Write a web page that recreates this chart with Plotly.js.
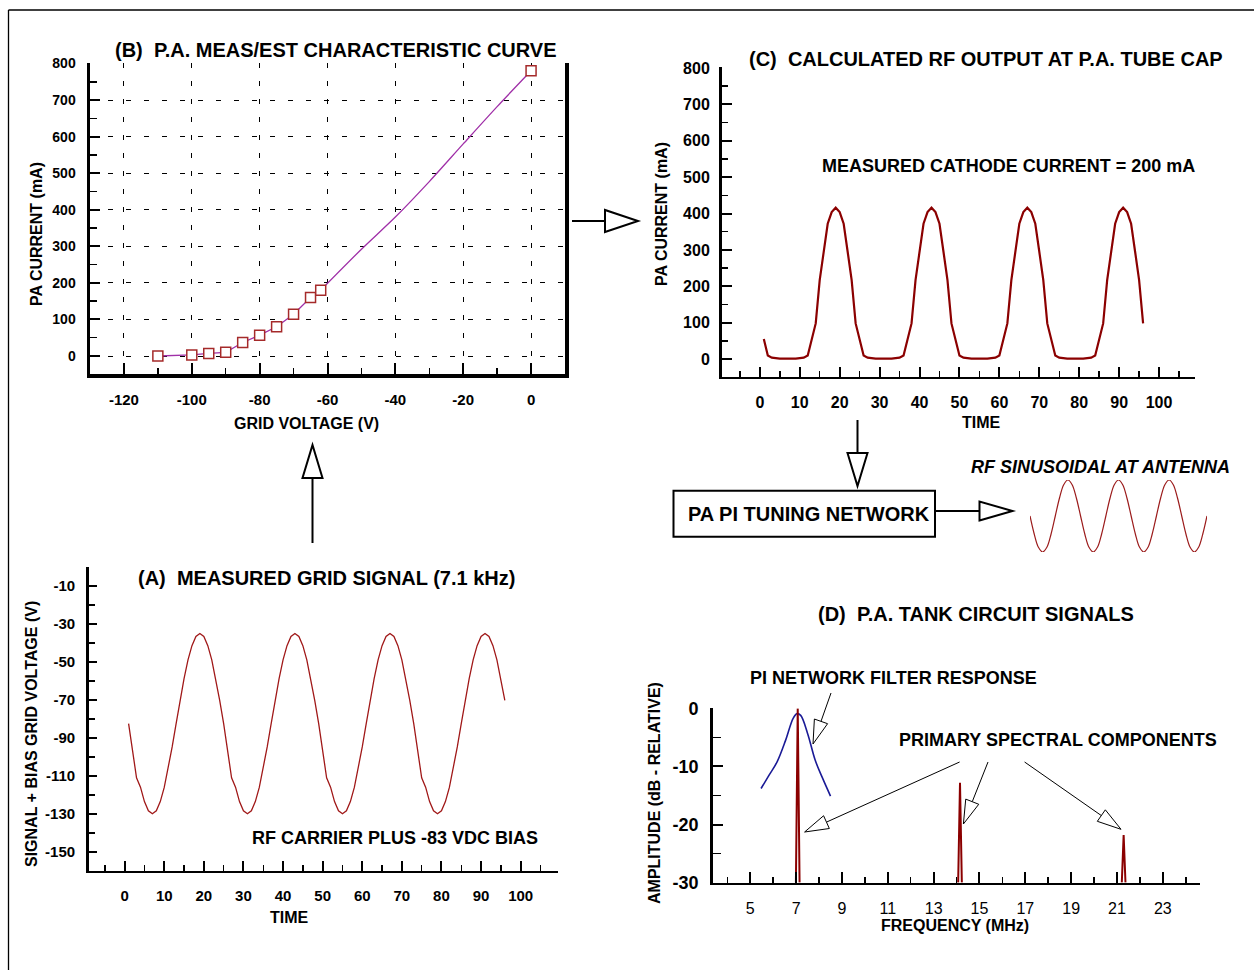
<!DOCTYPE html>
<html>
<head>
<meta charset="utf-8">
<script src="https://cdn.plot.ly/plotly-3.0.1.min.js"></script>
<style>html,body{margin:0;padding:0;background:#fff;}#chart{width:1254px;height:970px;}</style>
</head>
<body>
<div id="chart"></div>
<script>
// ---------- DATA ----------
// (A) measured grid signal
const timeA = [1,2,3,4,5,6,7,8,9,10,11,12,13,14,15,16,17,18,19,20,21,22,23,24,25,26,27,28,29,30,31,32,33,34,35,36,37,38,39,40,41,42,43,44,45,46,47,48,49,50,51,52,53,54,55,56,57,58,59,60,61,62,63,64,65,66,67,68,69,70,71,72,73,74,75,76,77,78,79,80,81,82,83,84,85,86,87,88,89,90,91,92,93,94,95,96];
const gridVolts = [
 -82.5,-97,-111,-116,-123.6,-128.4,-130,-128.4,-123.6,-116.1,-106.3,-94.8,
 -82.5,-70.2,-58.8,-48.9,-41.4,-36.6,-35,-36.6,-41.4,-48.9,-58.8,-70.2,-82.5,-97,-111,-116,-123.6,-128.4,-130,-128.4,-123.6,-116.1,-106.3,-94.8,
 -82.5,-70.2,-58.8,-48.9,-41.4,-36.6,-35,-36.6,-41.4,-48.9,-58.8,-70.2,-82.5,-97,-111,-116,-123.6,-128.4,-130,-128.4,-123.6,-116.1,-106.3,-94.8,
 -82.5,-70.2,-58.8,-48.9,-41.4,-36.6,-35,-36.6,-41.4,-48.9,-58.8,-70.2,-82.5,-97,-111,-116,-123.6,-128.4,-130,-128.4,-123.6,-116.1,-106.3,-94.8,
 -82.5,-70.2,-58.8,-48.9,-41.4,-36.6,-35,-36.6,-41.4,-48.9,-58.8,-70.2];
const gridTickVals = [-150,-130,-110,-90,-70,-50,-30,-10];

// (B) characteristic curve: measured points (squares) and estimated extension
const measVolts = [-110,-100,-95,-90,-85,-80,-75,-70,-65,-62];
const measCurrent = [0,3,7,10,37,57,80,114,160,180];
const estVolts = [-62,-50,-40,-30,-20,-10,0];
const estCurrent = [180,292,380,477,580,682,780];
const endVolts = [0];
const endCurrent = [780];
const voltTickVals = [-120,-100,-80,-60,-40,-20,0];

// (C) calculated RF output
const timeC = timeA;
const plateCurrent = [
 55,10,4,2,1,1,0,1,1,2,4,10,
 55,98,217,295,372,404,416,404,372,295,217,98,55,10,4,2,1,1,0,1,1,2,4,10,
 55,98,217,295,372,404,416,404,372,295,217,98,55,10,4,2,1,1,0,1,1,2,4,10,
 55,98,217,295,372,404,416,404,372,295,217,98,55,10,4,2,1,1,0,1,1,2,4,10,
 55,98,217,295,372,404,416,404,372,295,217,98];

// (D) tank circuit signals
const filterFreq = [5.47,5.82,6.17,6.54,6.87,7.04,7.2,7.5,7.83,8.13,8.5];
const filterDb = [-13.8,-11.5,-9.2,-5.5,-1.7,-0.9,-1.2,-4.3,-8.9,-11.8,-15.1];
const specFreq = [7.07,14.15,21.29];
const specDb = [0,-12.8,-21.8];
const dbTickVals = [-30,-20,-10,0];

// RF sinusoid at antenna (12 samples per cycle)
const rfStep = [0,1,2,3,4,5,6,7,8,9,10,11,12,13,14,15,16,17,18,19,20,21,22,23,24,25,26,27,28,29,30,31,32,33,34,35,36,37,38,39,40,41,42];
const rfLevel = [0,-0.5,-0.87,-1,-0.87,-0.5,0,0.5,0.87,1,0.87,0.5,
                 0,-0.5,-0.87,-1,-0.87,-0.5,0,0.5,0.87,1,0.87,0.5,
                 0,-0.5,-0.87,-1,-0.87,-0.5,0,0.5,0.87,1,0.87,0.5,
                 0,-0.5,-0.87,-1,-0.87,-0.5,0];

// ---------- LAYOUT HELPERS ----------
const W = 1254, H = 970;
const X = v => v / W, Y = v => 1 - v / H;
const F = 'Liberation Sans, Arial, sans-serif';
const bold = s => ({family: F, size: s, color: '#000', weight: 700});

function ax(extra) {
  return Object.assign({
    showline: true, linecolor: '#000', linewidth: 2.5,
    ticks: 'inside', tickcolor: '#000', tickwidth: 2,
    showgrid: false, zeroline: false, automargin: false, fixedrange: true
  }, extra);
}
function minor(dtick, tick0, len, w) {
  return {tickmode: 'linear', dtick: dtick, tick0: tick0, ticks: 'inside', ticklen: len, tickwidth: w || 1.5, tickcolor: '#000', showgrid: false};
}

const annotations = [];
function txt(text, x, y, size, extra) {
  annotations.push(Object.assign({
    text: text, x: X(x), y: Y(y), xref: 'paper', yref: 'paper', showarrow: false,
    xanchor: 'center', yanchor: 'middle', font: bold(size)
  }, extra || {}));
}
const sp = '\u00a0\u00a0';
// panel titles
txt('(B)' + sp + 'P.A. MEAS/EST CHARACTERISTIC CURVE', 336, 50, 20);
txt('(C)' + sp + 'CALCULATED RF OUTPUT AT P.A. TUBE CAP', 986, 59, 20);
txt('(A)' + sp + 'MEASURED GRID SIGNAL (7.1 kHz)', 326, 578, 20);
txt('(D)' + sp + 'P.A. TANK CIRCUIT SIGNALS', 976, 614, 20);
// axis titles
txt('PA CURRENT (mA)', 36, 234, 16, {textangle: -90});
txt('GRID VOLTAGE (V)', 306, 423, 16);
txt('PA CURRENT (mA)', 661, 214, 16, {textangle: -90});
txt('TIME', 981, 422, 16);
txt('SIGNAL + BIAS GRID VOLTAGE (V)', 31, 734, 16, {textangle: -90});
txt('TIME', 289, 917, 16);
txt('AMPLITUDE (dB - RELATIVE)', 654, 793, 16, {textangle: -90});
txt('FREQUENCY (MHz)', 955, 925, 16);
// notes
txt('MEASURED CATHODE CURRENT = 200 mA', 1008, 166, 18);
txt('RF CARRIER PLUS -83 VDC BIAS', 395, 838, 18);
txt('PI NETWORK FILTER RESPONSE', 894, 678, 18);
txt('PRIMARY SPECTRAL COMPONENTS', 1058, 740, 18);
txt('PA PI TUNING NETWORK', 809, 514, 20);
txt('RF SINUSOIDAL AT ANTENNA', 1100, 467, 18, {font: {family: F, size: 18, color: '#000', weight: 700, style: 'italic'}});

const shapes = [];
function line(x0, y0, x1, y1, w) {
  shapes.push({type: 'line', xref: 'paper', yref: 'paper', x0: X(x0), y0: Y(y0), x1: X(x1), y1: Y(y1), line: {color: '#000', width: w}});
}
function arrow(x0, y0, x1, y1, L, Wd, lw) {
  const dx = x1 - x0, dy = y1 - y0, len = Math.hypot(dx, dy);
  const ux = dx / len, uy = dy / len, nx = -uy, ny = ux;
  const bx = x1 - ux * L, by = y1 - uy * L;
  line(x0, y0, bx, by, lw);
  const p = [[bx + nx * Wd, by + ny * Wd], [x1, y1], [bx - nx * Wd, by - ny * Wd]];
  shapes.push({type: 'path', xref: 'paper', yref: 'paper',
    path: 'M' + p.map(q => X(q[0]) + ',' + Y(q[1])).join(' L') + ' Z',
    fillcolor: '#fff', line: {color: '#000', width: lw}});
}
// page border (top and left)
line(8.5, 10, 1262, 10, 1.3);
line(8.5, 10, 8.5, 980, 1.3);
// flow arrows
arrow(572, 221, 638, 221, 33, 11, 2);
arrow(312.5, 543, 312.5, 445, 33, 10, 2);
arrow(857.5, 420, 857.5, 486, 33, 10, 2);
arrow(935, 511, 1012.5, 511, 33, 9.5, 2);
// tuning network box
shapes.push({type: 'rect', xref: 'paper', yref: 'paper', x0: X(673.5), y0: Y(536.7), x1: X(935), y1: Y(490.7), line: {color: '#000', width: 2}, fillcolor: 'rgba(0,0,0,0)'});
// panel D pointer arrows
arrow(831, 693, 813, 744, 24, 7, 1);
arrow(959.6, 762, 804.6, 832, 24, 7, 1);
arrow(988, 762, 963.4, 824, 24, 7, 1);
arrow(1024.6, 762, 1121, 829.3, 24, 7, 1);

// ---------- TRACES ----------
const sq = {symbol: 'square', size: 10, color: '#fff', line: {color: '#A52A2A', width: 1.5}};
const purple = {color: '#A030A8', width: 1.3};
const traces = [];
traces.push({x: timeA, y: gridVolts, xaxis: 'x', yaxis: 'y', mode: 'lines', line: {color: '#A01818', width: 1.3}, hoverinfo: 'skip'});
traces.push({x: estVolts, y: estCurrent, xaxis: 'x2', yaxis: 'y2', mode: 'lines', line: Object.assign({shape: 'spline', smoothing: 0.8}, purple), hoverinfo: 'skip'});
traces.push({x: measVolts, y: measCurrent, xaxis: 'x2', yaxis: 'y2', mode: 'lines+markers', line: purple, marker: sq, hoverinfo: 'skip'});
traces.push({x: endVolts, y: endCurrent, xaxis: 'x2', yaxis: 'y2', mode: 'markers', marker: sq, hoverinfo: 'skip'});
traces.push({x: timeC, y: plateCurrent, xaxis: 'x3', yaxis: 'y3', mode: 'lines', line: {color: '#8B0000', width: 2.2}, hoverinfo: 'skip'});
traces.push({x: filterFreq, y: filterDb, xaxis: 'x4', yaxis: 'y4', mode: 'lines', line: {color: '#1A1A96', width: 1.6, shape: 'spline'}, hoverinfo: 'skip'});
specFreq.forEach((f, i) => {
  traces.push({x: [f - 0.08, f, f + 0.08], y: [-30, specDb[i], -30], xaxis: 'x4', yaxis: 'y4', mode: 'lines',
    line: {color: '#8B0000', width: 2}, hoverinfo: 'skip'});
});
traces.push({x: rfStep, y: rfLevel, xaxis: 'x5', yaxis: 'y5', mode: 'lines', line: {color: '#9B1B1B', width: 1.2, shape: 'spline'}, cliponaxis: false, hoverinfo: 'skip'});

// ---------- AXES ----------
const layout = {
  width: W, height: H, margin: {l: 0, r: 0, t: 0, b: 0},
  paper_bgcolor: '#fff', plot_bgcolor: 'rgba(0,0,0,0)', showlegend: false,
  annotations: annotations, shapes: shapes,
  // (A)
  xaxis: ax({domain: [X(88.6), X(557.5)], anchor: 'y', range: [-9.1, 109.3], tick0: 0, dtick: 10, ticklen: 10,
    minor: minor(5, 0, 6), tickfont: bold(15), ticklabelstandoff: 10}),
  yaxis: ax({domain: [Y(870.7), Y(566.7)], anchor: 'x', range: [-160, 0.2], tickmode: 'array', tickvals: gridTickVals,
    ticktext: gridTickVals.map(String), ticklen: 8, minor: minor(10, 0, 6), tickfont: bold(15), ticklabelstandoff: 8}),
  // (B)
  xaxis2: ax({domain: [X(90), X(565)], anchor: 'y2', range: [-130, 10], linewidth: 3.5, tickmode: 'array', tickvals: voltTickVals,
    ticktext: voltTickVals.map(String), ticklen: 11, minor: minor(10, 0, 6),
    showgrid: true, gridcolor: '#000', gridwidth: 1, griddash: '5px,13px', tickfont: bold(15), ticklabelstandoff: 9}),
  yaxis2: ax({domain: [Y(374.3), Y(63.3)], anchor: 'x2', range: [-50, 800.5], linewidth: 3.5, mirror: true, tick0: 0, dtick: 100, ticklen: 10,
    minor: minor(50, 0, 7), showgrid: true, gridcolor: '#000', gridwidth: 1, griddash: '5px,13px', tickfont: bold(14), ticklabelstandoff: 8}),
  // (C)
  xaxis3: ax({domain: [X(721.5), X(1195)], anchor: 'y3', range: [-9.6, 109], tick0: 0, dtick: 10, ticklen: 10,
    minor: minor(5, 0, 6), tickfont: bold(16), ticklabelstandoff: 10}),
  yaxis3: ax({domain: [Y(376.7), Y(67.3)], anchor: 'x3', range: [-48.5, 802], tick0: 0, dtick: 100, ticklen: 10,
    minor: minor(50, 0, 6), tickfont: bold(16), ticklabelstandoff: 6}),
  // (D)
  xaxis4: ax({domain: [X(712.7), X(1199.5)], anchor: 'y4', range: [3.36, 24.6], tick0: 5, dtick: 2, ticklen: 11,
    minor: minor(1, 0, 6), tickfont: {family: F, size: 16, color: '#000', weight: 400}, ticklabelstandoff: 10}),
  yaxis4: ax({domain: [Y(882.7), Y(708.3)], anchor: 'x4', range: [-30.02, 0.02], tickmode: 'array', tickvals: dbTickVals,
    ticktext: dbTickVals.map(String), ticklen: 10, minor: minor(5, 0, 8), tickfont: bold(18), ticklabelstandoff: 8}),
  // RF sketch
  xaxis5: {domain: [X(1030), X(1207)], anchor: 'y5', range: [0, 42], visible: false, fixedrange: true},
  yaxis5: {domain: [Y(552), Y(480)], anchor: 'x5', range: [-1, 1], visible: false, fixedrange: true}
};

Plotly.newPlot('chart', traces, layout, {staticPlot: true, displayModeBar: false});
</script>
</body>
</html>
